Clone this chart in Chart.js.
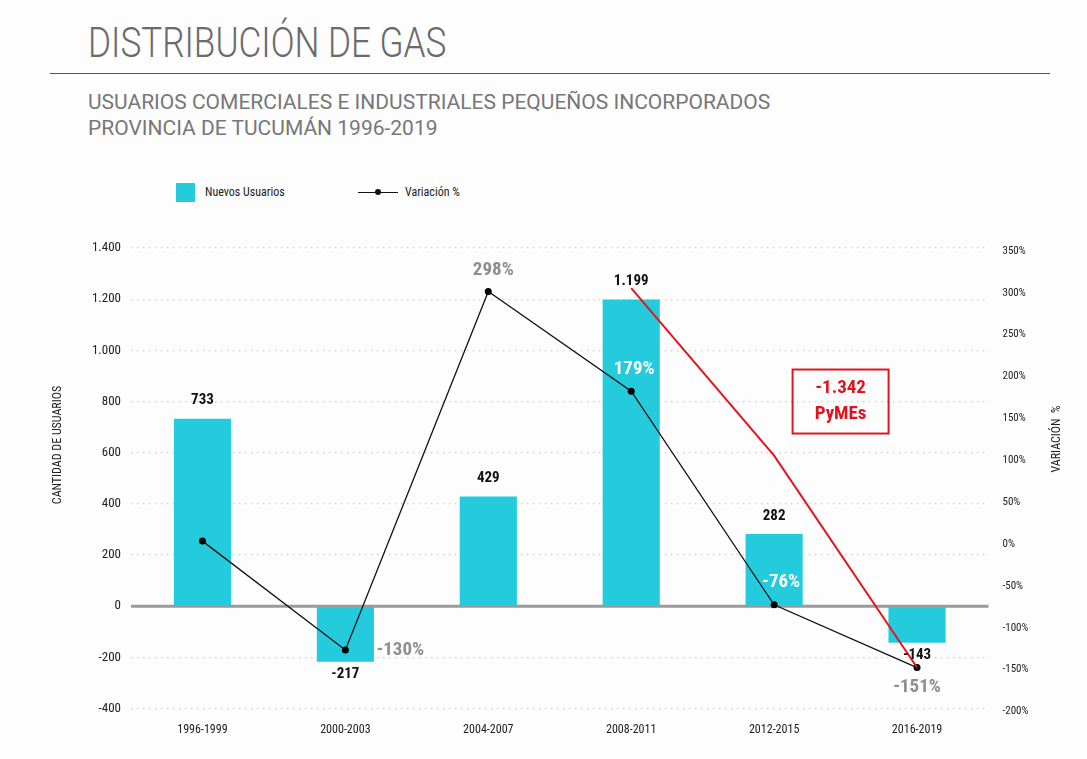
<!DOCTYPE html>
<html><head><meta charset="utf-8">
<script src="https://cdn.jsdelivr.net/npm/chart.js@4/dist/chart.umd.min.js"></script>
<style>
html,body{margin:0;padding:0;background:#fdfdfd;}
#wrap{position:relative;width:1087px;height:759px;overflow:hidden;font-family:"Roboto Condensed","Liberation Sans Narrow","Roboto",sans-serif;}
#title{position:absolute;left:88px;top:18px;font-family:Roboto,sans-serif;font-size:42px;font-weight:300;color:#6a6a6a;white-space:nowrap;transform-origin:0 0;}
#rule{position:absolute;left:50px;top:73px;width:1000px;height:0;border-top:1.5px solid #555;}
.sub{position:absolute;left:88px;font-family:Roboto,sans-serif;font-size:21px;font-weight:400;color:#777;white-space:nowrap;transform-origin:0 0;}
#legend{position:absolute;left:176px;top:183px;height:19px;font-size:12px;color:#222;}
.li{position:absolute;top:0;height:19px;line-height:19px;white-space:nowrap;}
canvas{position:absolute;left:0;top:0;}
</style></head>
<body><div id="wrap">
<div id="title">DISTRIBUCIÓN DE GAS</div>
<div id="rule"></div>
<div class="sub" id="sub1" style="top:90px">USUARIOS COMERCIALES E INDUSTRIALES PEQUEÑOS INCORPORADOS</div>
<div class="sub" id="sub2" style="top:116px">PROVINCIA DE TUCUMÁN 1996-2019</div>
<div id="legend">
  <div class="li" style="left:0"><span style="display:inline-block;width:19px;height:19px;background:#24CBDD;vertical-align:top"></span><span style="position:absolute;left:29px;top:0">Nuevos Usuarios</span></div>
  <div class="li" style="left:182px;width:40px"><span style="position:absolute;left:0;top:9px;width:40px;height:0;border-top:1.3px solid #111"></span><span style="position:absolute;left:17px;top:6px;width:6px;height:6px;border-radius:50%;background:#111"></span></div>
  <div class="li" style="left:229px">Variación %</div>
</div>
<canvas id="c" width="1087" height="759"></canvas>
</div>
<script>
// ---- data ----
const periodos = ["1996-1999","2000-2003","2004-2007","2008-2011","2012-2015","2016-2019"];
const nuevosUsuarios = [733, -217, 429, 1199, 282, -143];
const variacion = [0, -130, 298, 179, -76, -151];
const variacionEtiquetas = ["", "-130%", "298%", "179%", "-76%", "-151%"];
const tendencia = [null, null, null, 302, 102, -151];
const usuariosTicks = [-400,-200,0,200,400,600,800,1000,1200,1400];
const variacionTicks = [-200,-150,-100,-50,0,50,100,150,200,250,300,350];
const totalTexto = ["-1.342", "PyMEs"];

// ---- label placement/style (not data) ----
const pctPlacement = [null, {dx:31,dy:0,align:'left'}, {dx:5,dy:-21,align:'center'}, {dx:3,dy:-22,align:'center'}, {dx:7,dy:-23,align:'center'}, {dx:0,dy:20,align:'center'}];
const pctColor = [null, '#8e8e8e', '#8e8e8e', '#ffffff', '#ffffff', '#8e8e8e'];

function fitWidth(id, w){const el=document.getElementById(id);const r=el.scrollWidth;el.style.transform='scaleX('+(w/r)+')';}
fitWidth('title',358); fitWidth('sub1',682); fitWidth('sub2',350);

const FONT = '"Roboto Condensed","Liberation Sans Narrow",Roboto,sans-serif';
Chart.defaults.font.family = FONT;
Chart.defaults.color = '#222';

const fmt = v => v.toLocaleString('de-DE');

const labelsPlugin = {
  id:'labelsPlugin',
  beforeDatasetsDraw(chart){
    const ctx=chart.ctx, y=chart.scales.y, a=chart.chartArea;
    const y0=y.getPixelForValue(0);
    ctx.save(); ctx.strokeStyle='#9a9a9a'; ctx.lineWidth=3;
    ctx.beginPath(); ctx.moveTo(a.left,y0); ctx.lineTo(a.right,y0); ctx.stroke(); ctx.restore();
  },
  afterDatasetsDraw(chart){
    const ctx=chart.ctx;
    ctx.save();
    const bars=chart.getDatasetMeta(2).data;
    ctx.font='bold 15px '+FONT; ctx.fillStyle='#111'; ctx.textAlign='center'; ctx.textBaseline='middle';
    bars.forEach((b,i)=>{
      const v=nuevosUsuarios[i];
      ctx.fillText(fmt(v), b.x, v>=0 ? b.y-18 : b.y+12);
    });
    const pts=chart.getDatasetMeta(0).data;
    ctx.font='bold 19px '+FONT;
    pts.forEach((p,i)=>{
      const pl=pctPlacement[i]; if(!pl) return;
      ctx.fillStyle=pctColor[i]; ctx.textAlign=pl.align;
      ctx.fillText(variacionEtiquetas[i], p.x+pl.dx, p.y+pl.dy);
    });
    // total box
    const xs=chart.scales.x, yl=chart.scales.y;
    const cx=(xs.getPixelForValue(4)+xs.getPixelForValue(5))/2 - 5;
    const cy=yl.getPixelForValue(800);
    ctx.strokeStyle='#e0141e'; ctx.lineWidth=2;
    ctx.strokeRect(cx-48, cy-32, 96, 64);
    ctx.fillStyle='#e0141e'; ctx.textAlign='center'; ctx.font='bold 19px '+FONT;
    ctx.fillText(totalTexto[0], cx, cy-13);
    ctx.fillText(totalTexto[1], cx, cy+13);
    // axis titles
    ctx.fillStyle='#222'; ctx.font='12px '+FONT;
    ctx.save(); ctx.translate(58, 445); ctx.rotate(-Math.PI/2); ctx.fillText('CANTIDAD DE USUARIOS',0,0); ctx.restore();
    ctx.save(); ctx.translate(1057, 439); ctx.rotate(-Math.PI/2); ctx.fillText('VARIACIÓN  %',0,0); ctx.restore();
    ctx.restore();
  }
};

new Chart(document.getElementById('c'), {
  data:{
    labels: periodos,
    datasets:[
      {type:'line', label:'Variación %', data:variacion, yAxisID:'y1', borderColor:'#111', borderWidth:1.3, pointRadius:3.5, pointBackgroundColor:'#000', pointBorderWidth:0, tension:0, order:1},
      {type:'line', label:'tendencia', data:tendencia, yAxisID:'y1', borderColor:'#e3161b', borderWidth:2, pointRadius:0, tension:0, order:0},
      {type:'bar', label:'Nuevos Usuarios', data:nuevosUsuarios, yAxisID:'y', backgroundColor:'#24CBDD', barPercentage:0.8, categoryPercentage:0.5, order:2}
    ]
  },
  options:{
    responsive:false, animation:false,
    layout:{padding:{top:248,bottom:16,left:0,right:0}},
    plugins:{legend:{display:false}, tooltip:{enabled:false}},
    scales:{
      x:{grid:{display:false}, border:{display:false}, ticks:{font:{size:12}, color:'#222', padding:6}},
      y:{position:'left', min:-400, max:1400, afterBuildTicks:s=>{s.ticks=usuariosTicks.map(v=>({value:v}));},
         afterFit:s=>{s.width=131;},
         ticks:{font:{size:13}, color:'#222', padding:10, callback:v=>fmt(v)},
         grid:{color:c=>c.tick&&c.tick.value===0?'rgba(0,0,0,0)':'#c8c8c8', lineWidth:1.3, drawTicks:false},
         border:{display:false, dash:[1.3,4.7]}},
      y1:{position:'right', min:-200, max:350, afterBuildTicks:s=>{s.ticks=variacionTicks.map(v=>({value:v}));},
         afterFit:s=>{s.width=98.5;},
         ticks:{font:{size:11}, color:'#222', padding:6, labelOffset:3, callback:v=>v+'%'},
         grid:{display:false}, border:{display:false}}
    }
  },
  plugins:[labelsPlugin]
});
</script>
</body></html>
